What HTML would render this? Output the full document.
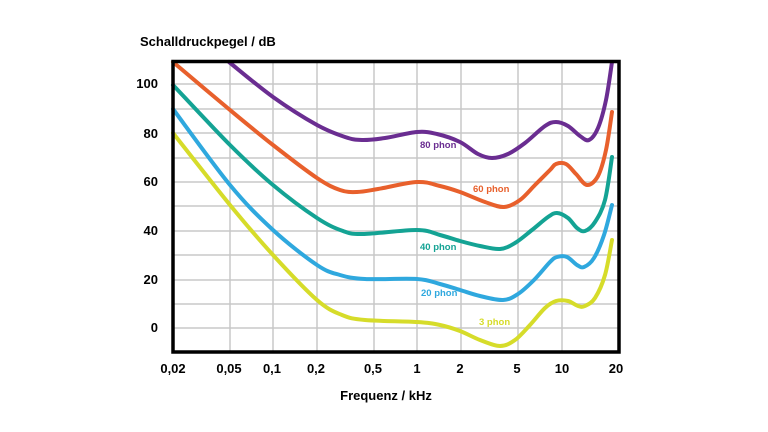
<!DOCTYPE html>
<html><head><meta charset="utf-8"><style>
html,body{margin:0;padding:0;background:#fff;}
svg{display:block;font-family:"Liberation Sans",sans-serif;font-weight:bold;}
</style></head><body>
<svg id="s" width="768" height="432" viewBox="0 0 768 432" xmlns="http://www.w3.org/2000/svg">
<rect width="768" height="432" fill="#fff"/>
<g stroke="#c8c8c8" stroke-width="1.5">
<line x1="173" x2="619" y1="84" y2="84"/><line x1="173" x2="619" y1="109" y2="109"/>
<line x1="173" x2="619" y1="133" y2="133"/><line x1="173" x2="619" y1="158" y2="158"/>
<line x1="173" x2="619" y1="182" y2="182"/><line x1="173" x2="619" y1="206" y2="206"/>
<line x1="173" x2="619" y1="231" y2="231"/><line x1="173" x2="619" y1="255" y2="255"/>
<line x1="173" x2="619" y1="280" y2="280"/><line x1="173" x2="619" y1="304" y2="304"/>
<line x1="173" x2="619" y1="328" y2="328"/>
<line y1="61" y2="352" x1="230" x2="230"/><line y1="61" y2="352" x1="273" x2="273"/>
<line y1="61" y2="352" x1="317" x2="317"/><line y1="61" y2="352" x1="374" x2="374"/>
<line y1="61" y2="352" x1="417" x2="417"/><line y1="61" y2="352" x1="461" x2="461"/>
<line y1="61" y2="352" x1="518" x2="518"/><line y1="61" y2="352" x1="562" x2="562"/>
</g>
<g id="curves" fill="none" stroke-width="4" stroke-linecap="round"></g>
<rect x="173" y="61.5" width="446" height="290.5" fill="none" stroke="#000" stroke-width="3.5"/>
<g font-size="13" fill="#000" text-anchor="end">
<text x="158" y="88">100</text><text x="158" y="138">80</text><text x="158" y="186">60</text>
<text x="158" y="235">40</text><text x="158" y="284">20</text><text x="158" y="332">0</text>
</g>
<g font-size="13" fill="#000" text-anchor="middle">
<text x="173" y="373">0,02</text><text x="229" y="373">0,05</text><text x="272" y="373">0,1</text>
<text x="316" y="373">0,2</text><text x="373" y="373">0,5</text><text x="417" y="373">1</text>
<text x="460" y="373">2</text><text x="517" y="373">5</text><text x="562" y="373">10</text>
<text x="616" y="373">20</text>
<text x="386" y="400">Frequenz / kHz</text>
</g>
<text x="140" y="46" font-size="13" fill="#000">Schalldruckpegel / dB</text>
<g font-size="9.5">
<text x="420" y="148" fill="#6a2d91">80 phon</text>
<text x="473" y="192" fill="#e8602c">60 phon</text>
<text x="420" y="250" fill="#14a394">40 phon</text>
<text x="421" y="296" fill="#2fa8de">20 phon</text>
<text x="479" y="325" fill="#d6dc2a">3 phon</text>
</g>
</svg>
<script>
var C=[
["#6a2d91",[[229,62],[273,97],[317,125],[345,137],[362,140],[385,138],[417,132],[437,134],[460,142],[478,154],[492,158],[508,154],[525,143],[545,126],[556,122],[568,126],[580,136],[589,140],[598,128],[606,100],[612,62]]],
["#e8602c",[[173,62],[230,110],[273,145],[317,178],[340,190],[357,192],[378,189],[417,182],[440,186],[460,192],[485,202],[504,207],[520,200],[535,185],[550,170],[556,164],[566,164],[576,174],[587,185],[598,176],[606,150],[612,112]]],
["#14a394",[[173,85],[230,145],[273,185],[317,218],[343,231],[363,234],[417,230],[440,235],[460,241],[480,246],[500,249],[515,243],[532,230],[548,217],[557,213],[568,218],[577,228],[585,231],[595,222],[605,200],[612,157]]],
["#2fa8de",[[173,109],[230,185],[273,230],[317,265],[340,275],[365,279],[417,279],[440,284],[460,290],[480,296],[503,300],[518,294],[534,280],[550,262],[557,257],[567,257],[577,265],[584,267],[594,258],[604,235],[612,205]]],
["#d6dc2a",[[173,133],[230,205],[273,255],[317,300],[342,315],[365,320],[417,322],[440,325],[460,331],[480,340],[500,346],[515,340],[530,325],[545,308],[556,301],[568,301],[578,306],[585,306],[595,298],[605,275],[612,240]]]
];
var g=document.getElementById('curves');
C.forEach(function(c){var p=c[1],d="M"+p[0][0]+","+p[0][1];
for(var i=0;i<p.length-1;i++){var p0=p[i-1]||p[i],p1=p[i],p2=p[i+1],p3=p[i+2]||p2;
d+=" C"+(p1[0]+(p2[0]-p0[0])/6)+","+(p1[1]+(p2[1]-p0[1])/6)+" "+(p2[0]-(p3[0]-p1[0])/6)+","+(p2[1]-(p3[1]-p1[1])/6)+" "+p2[0]+","+p2[1];}
var e=document.createElementNS("http://www.w3.org/2000/svg","path");e.setAttribute("d",d);e.setAttribute("stroke",c[0]);g.appendChild(e);});
</script>
</body></html>
